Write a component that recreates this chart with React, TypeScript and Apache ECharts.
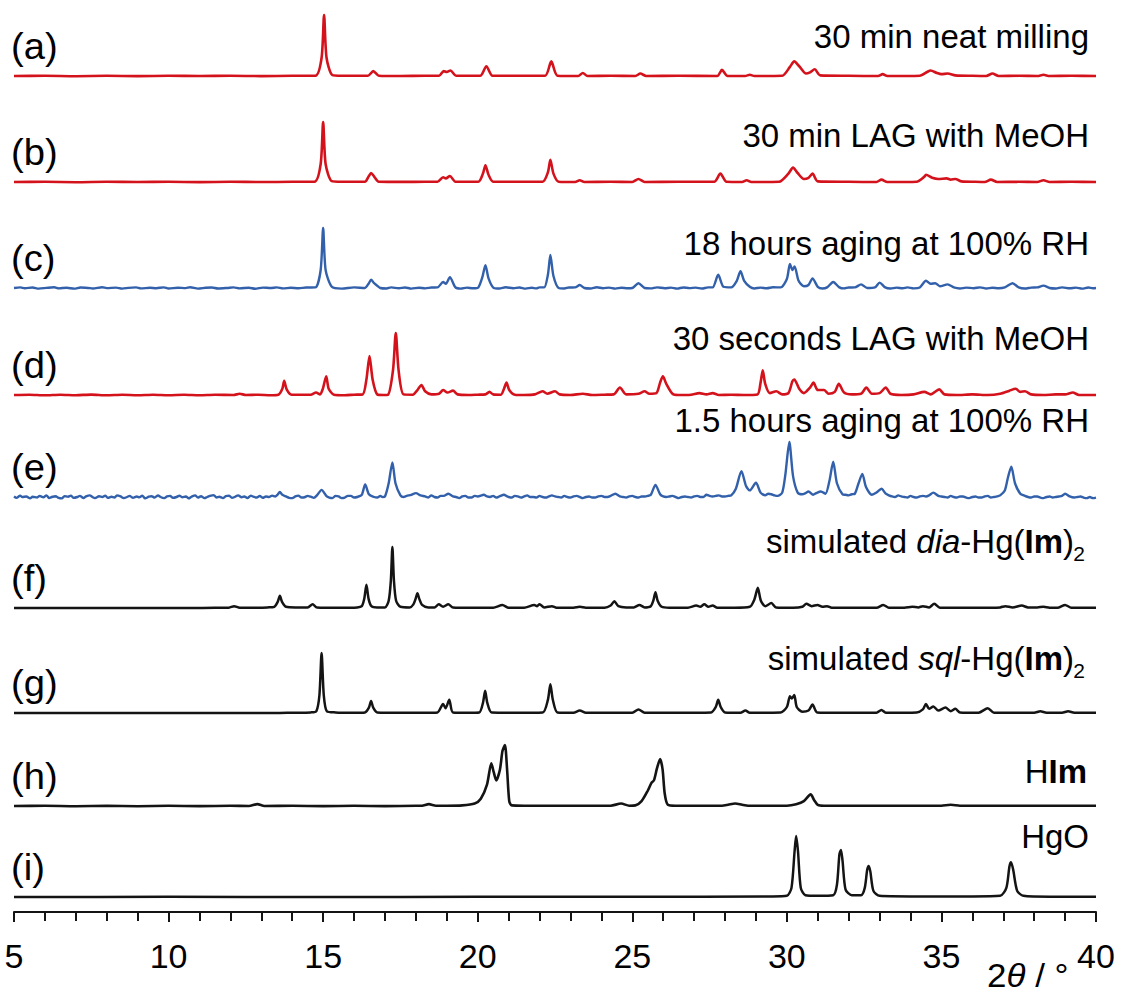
import React, { useEffect, useRef } from "react";
import * as echarts from "echarts";

// ---------- data ----------
const X_MIN = 5;
const X_MAX = 40;
const X_STEP = 5;

const traceTags = ["(a)", "(b)", "(c)", "(d)", "(e)", "(f)", "(g)", "(h)", "(i)"];

// (a) 30 min neat milling
const traceA: [number, number][] = [
  [5, 0], [6, 0.4], [7, -0.3], [8, 0.3], [9, -0.2], [10, 0.4], [11, 0], [12, 0.3], [13, -0.2], [14, 0.3],
  [14.75, 0.5], [14.95, 30], [15.03, 100], [15.11, 30], [15.3, 1.5], [15.6, 0.5],
  [16.45, 0.5], [16.62, 8], [16.8, 0.5], [17.5, 0], [18.3, 0.4],
  [18.75, 0.5], [18.9, 8], [19.0, 6.5], [19.12, 9], [19.3, 0.5],
  [20.08, 0.5], [20.28, 16], [20.48, 0.5], [21.3, 0.3],
  [22.18, 0.5], [22.38, 24], [22.58, 0.5],
  [23.25, 0], [23.4, 5], [23.55, 0], [24.3, 0.4],
  [25.1, 0], [25.26, 4], [25.45, 0], [26.5, 0.3],
  [27.75, 0], [27.9, 10], [28.08, 0],
  [28.65, 0], [28.8, 2], [28.95, 0],
  [29.85, 0.5], [30.1, 15], [30.24, 24], [30.4, 16], [30.62, 4], [30.75, 6], [30.9, 11], [31.08, 1],
  [32, 0.3], [32.95, 0], [33.1, 3], [33.25, 0],
  [34.3, 0.5], [34.55, 7], [34.65, 9], [34.85, 5], [35.0, 3], [35.2, 4], [35.45, 1],
  [36.0, 0.3], [36.45, 0], [36.65, 4], [36.85, 0], [37.5, 0.3],
  [38.1, 0], [38.3, 2], [38.5, 0], [39.2, 0.3], [40, 0],
];

// (b) 30 min LAG with MeOH
const traceB: [number, number][] = [
  [5, 0], [6, 0.3], [7, -0.3], [8, 0.4], [9, 0], [10, 0.3], [11, -0.2], [12, 0.3], [13, 0], [14, 0.3],
  [14.72, 0.5], [14.92, 30], [15.0, 100], [15.08, 30], [15.28, 1.5], [15.6, 0.5],
  [16.35, 0.5], [16.48, 10], [16.55, 15], [16.65, 9], [16.8, 0.5],
  [17.6, 0.2], [18.3, 0.4],
  [18.7, 0.5], [18.88, 8], [18.97, 6], [19.1, 10], [19.28, 0.5],
  [20.02, 0.5], [20.17, 14], [20.25, 28], [20.35, 12], [20.5, 0.5], [21.3, 0.3],
  [22.1, 0.5], [22.27, 16], [22.35, 37], [22.45, 14], [22.62, 0.5],
  [23.15, 0], [23.3, 3], [23.45, 0], [24.3, 0.3],
  [25.0, 0], [25.2, 5], [25.4, 0], [26.5, 0.3],
  [27.65, 0.3], [27.85, 14], [28.05, 0.3],
  [28.55, 0], [28.7, 3], [28.85, 0],
  [29.75, 0.5], [30.05, 14], [30.2, 24], [30.35, 15], [30.55, 5], [30.7, 7], [30.83, 14], [31.0, 1],
  [32, 0.3], [32.9, 0], [33.06, 4], [33.25, 0],
  [34.2, 0.5], [34.45, 9], [34.5, 12], [34.7, 7], [34.9, 5], [35.17, 6], [35.3, 4], [35.45, 5], [35.65, 1],
  [36.1, 0.3], [36.4, 0], [36.6, 4], [36.8, 0], [37.5, 0.3],
  [38.1, 0], [38.3, 3], [38.5, 0], [39.2, 0.3], [40, 0],
];

// (c) 18 hours aging at 100% RH
const traceC: [number, number][] = [
  [5, 0], [5.2, 1], [5.35, -0.5], [5.6, 0.8], [5.8, -1], [6.05, 0.2], [6.3, 1.2], [6.45, -0.6], [6.7, 0.4], [6.95, -1.1],
  [7.15, 0.9], [7.4, 0.1], [7.55, -0.8], [7.85, 1.3], [8.0, -0.2], [8.3, 0.6], [8.5, -1], [8.7, 0.2], [8.95, 1], [9.1, -0.7],
  [9.4, 0.3], [9.6, -0.4], [9.85, 1.1], [10.0, -0.9], [10.3, 0.5], [10.55, -0.2], [10.7, 1.2], [10.95, -1], [11.2, 0.4], [11.4, 0.9],
  [11.6, -0.8], [11.9, 0.1], [12.1, 1], [12.3, -0.6], [12.6, 0.5], [12.8, -1.2], [13.05, 0.7], [13.3, -0.1], [13.5, 1], [13.7, -0.7],
  [13.95, 0.4], [14.2, -0.5], [14.45, 0.8],
  [14.75, 1], [14.92, 30], [15.0, 100], [15.08, 30], [15.28, 2], [15.6, -1], [16, 1],
  [16.35, 0], [16.48, 8], [16.55, 14], [16.65, 8], [16.85, 0],
  [17.05, -0.8], [17.2, 1], [17.45, -0.4], [17.65, 0.9], [17.85, -1], [18.1, 0.5], [18.3, -0.6], [18.5, 0.8],
  [18.7, 1], [18.88, 10], [18.97, 7], [19.1, 18], [19.28, 1], [19.45, -1], [19.65, 0.6], [19.85, -0.5],
  [20.02, 1], [20.15, 18], [20.25, 38], [20.35, 16], [20.52, 0],
  [20.7, -0.9], [20.9, 1.2], [21.15, -0.3], [21.35, 0.8], [21.55, -1], [21.75, 0.4], [21.9, -0.6], [22.0, 1],
  [22.15, 1], [22.27, 22], [22.35, 55], [22.45, 20], [22.62, 0],
  [22.8, -0.8], [22.95, 0.9], [23.15, 1], [23.3, 5], [23.45, 0], [23.65, -0.9], [23.85, 1.2], [24.05, -0.3], [24.25, 0.7], [24.45, -1], [24.65, 0.5], [24.85, -0.4],
  [25.0, 0], [25.2, 8], [25.4, 0],
  [25.6, -0.7], [25.8, 1.1], [26.05, -0.4], [26.25, 0.6], [26.45, -1], [26.65, 0.9], [26.85, -0.2], [27.05, 0.6], [27.25, -0.9], [27.45, 1],
  [27.6, 1], [27.78, 22], [27.95, 2],
  [28.2, 1], [28.38, 12], [28.5, 28], [28.62, 12], [28.8, 2],
  [28.95, -0.8], [29.15, 0.7], [29.35, -0.5], [29.55, 1.2], [29.8, 1], [30.0, 15], [30.1, 40], [30.18, 30], [30.25, 36], [30.38, 12], [30.55, 3],
  [30.7, 5], [30.83, 16], [31.0, 2],
  [31.15, -0.8], [31.3, 1], [31.5, 10], [31.7, 1],
  [31.85, -0.7], [32.0, 0.9], [32.2, 1], [32.4, 6], [32.6, 0],
  [32.85, 1], [33.0, 9], [33.18, 1],
  [33.35, -0.9], [33.55, 0.6], [33.75, -0.4], [33.9, 1.1], [34.1, -0.6],
  [34.3, 1], [34.5, 12], [34.65, 7], [34.8, 8], [34.95, 3], [35.2, 6], [35.4, 1],
  [35.6, -0.8], [35.8, 0.6], [36.05, -0.3], [36.25, 1.1], [36.45, -0.9], [36.65, 0.4], [36.85, -0.5],
  [37.05, 1], [37.3, 8], [37.5, 1],
  [37.7, -0.9], [37.9, 0.7], [38.1, 1], [38.3, 4], [38.5, 0], [38.7, -0.8], [38.9, 1.1], [39.15, -0.5], [39.35, 0.6], [39.55, -1], [39.75, 0.8], [39.9, -0.4], [40, 0],
];

// (d) 30 seconds LAG with MeOH
const traceD: [number, number][] = [
  [5, 0], [5.5, 0.5], [6, -0.5], [6.5, 0.5], [7, -0.3], [7.5, 0.6], [8, -0.5], [8.5, 0.3], [9, -0.4], [9.5, 0.5],
  [10, -0.3], [10.5, 0.4], [11, -0.5], [11.5, 0.3], [12.1, 0], [12.3, 2], [12.5, 0], [12.9, 0.5], [13.3, -0.3],
  [13.55, 0.5], [13.68, 10], [13.74, 23], [13.82, 9], [13.98, 0.5],
  [14.3, 0.3], [14.6, 0.5], [14.77, 4], [14.9, 1], [14.99, 10], [15.1, 30], [15.18, 10], [15.35, 0.5],
  [15.7, -0.3], [16.0, 0.5],
  [16.28, 1], [16.4, 25], [16.5, 63], [16.6, 25], [16.75, 1],
  [16.95, 0], [17.1, 0.5], [17.26, 40], [17.35, 100], [17.44, 40], [17.6, 1],
  [17.9, 0.5], [18.05, 8], [18.18, 16], [18.3, 6], [18.5, 1],
  [18.75, 2], [18.88, 8], [19.02, 4], [19.2, 7], [19.35, 1],
  [19.7, 0], [20.0, 0.5], [20.25, 1], [20.38, 5], [20.5, 1],
  [20.75, 0.5], [20.85, 10], [20.93, 20], [21.02, 8], [21.2, 0.5],
  [21.5, 0], [21.85, 1], [22.1, 6], [22.25, 2], [22.5, 6], [22.65, 1],
  [23.0, 0], [23.4, 2], [23.7, 0], [24.1, 0.5],
  [24.4, 1], [24.6, 12], [24.8, 1],
  [25.2, 2], [25.4, 6], [25.55, 2],
  [25.78, 3], [25.9, 20], [25.99, 30], [26.1, 18], [26.3, 2], [26.5, 0],
  [26.9, 0.5], [27.17, 3], [27.4, 1], [27.6, 3], [27.8, 0],
  [28.2, 0.5], [28.6, 0], [29.05, 1], [29.15, 20], [29.22, 40], [29.3, 18], [29.45, 3], [29.66, 6], [29.85, 1],
  [30.05, 3], [30.18, 22], [30.24, 25], [30.4, 10], [30.55, 3], [30.75, 12], [30.86, 20], [31.0, 8], [31.2, 8], [31.35, 2],
  [31.55, 5], [31.68, 18], [31.85, 4], [32.1, 1],
  [32.4, 2], [32.57, 12], [32.75, 2], [33.0, 3], [33.2, 12], [33.35, 2],
  [33.7, 0], [34.1, 1], [34.45, 5], [34.65, 1], [34.93, 9], [35.1, 1],
  [35.5, 0], [36.0, 1], [36.5, 0], [36.9, 2], [37.2, 7], [37.4, 10], [37.55, 5], [37.7, 6], [37.9, 1],
  [38.3, 0], [38.7, 1], [39.0, 1], [39.25, 4], [39.45, 0], [40, 0],
];

// (e) 1.5 hours aging at 100% RH
const traceE: [number, number][] = [
  [5, 1], [5.08, -1.5], [5.2, 2.5], [5.27, 0], [5.4, 1], [5.52, -2.5], [5.6, 0.5], [5.75, -1], [5.83, 2], [5.95, -0.5],
  [6.05, 3], [6.14, -2], [6.22, 0], [6.35, 1.5], [6.42, -1], [6.55, -2.5], [6.63, 1.5], [6.75, 0.5], [6.84, 2.5], [6.93, -1.5],
  [7.05, 0], [7.13, 2], [7.25, -2], [7.33, 1], [7.45, 3], [7.55, -0.5], [7.62, -2], [7.75, 1.5], [7.86, 0], [7.95, 2.5],
  [8.04, -1.5], [8.15, 0.5], [8.25, -1], [8.33, 3], [8.45, 1], [8.55, -2], [8.66, 0], [8.74, 2], [8.85, -1.5], [8.97, 1],
  [9.05, -0.5], [9.15, 2.5], [9.24, -2.5], [9.36, 0.5], [9.45, 1.5], [9.55, -1], [9.66, 3], [9.74, 0], [9.86, -2], [9.95, 1],
  [10.05, 2], [10.14, -1.5], [10.26, 0], [10.35, 2.5], [10.44, -0.5], [10.56, 1], [10.65, -2.5], [10.74, 0.5], [10.86, 3], [10.95, -1],
  [11.05, 1.5], [11.16, -2], [11.25, 0], [11.34, 2], [11.46, 3.5], [11.55, -1], [11.64, 0.5], [11.76, -2], [11.85, 1.5], [11.96, 2.5],
  [12.05, -1.5], [12.14, 0], [12.25, 3], [12.36, -0.5], [12.45, 1], [12.55, -2], [12.66, 2.5], [12.74, 0.5], [12.85, -1], [12.95, 2],
  [13.05, -1.5], [13.15, 1], [13.25, 0], [13.35, 2.5], [13.45, 1], [13.52, 4], [13.6, 9], [13.68, 4], [13.8, 1], [13.9, -1.5],
  [14, -2], [14.1, 1], [14.2, 2.5], [14.3, -1], [14.4, -0.5], [14.5, 2], [14.6, 0.5], [14.7, -1.5], [14.8, 3],
  [14.95, 13], [15.1, 2], [15.2, -1], [15.3, -2], [15.4, 2], [15.5, 1], [15.6, -2], [15.7, -1], [15.8, 2], [15.9, 2], [16.0, -1], [16.1, 0], [16.25, 4], [16.36, 23], [16.48, 5],
  [16.65, 0], [16.75, -1], [16.85, 2], [16.92, 0], [17.0, 1], [17.12, 25], [17.24, 63], [17.34, 25], [17.5, 3], [17.6, 0], [17.7, 2], [17.85, 4], [18.0, 7],
  [18.15, 3], [18.3, 1], [18.4, -1], [18.5, 3], [18.6, 0], [18.7, -1], [18.8, 2], [18.9, 2], [19.05, 6], [19.2, 1], [19.3, 0], [19.4, -2], [19.5, 1], [19.6, 2], [19.7, -1], [19.8, -1], [19.9, 2],
  [20.0, 1], [20.2, 4], [20.3, 1], [20.4, 0], [20.5, 2], [20.6, -1], [20.7, 1], [20.85, 4], [20.95, 1], [21.0, 0], [21.1, -1], [21.2, 2], [21.3, 1], [21.4, -1], [21.5, 1], [21.6, 3], [21.7, 0], [21.8, 0], [21.9, -1],
  [22.0, 2], [22.1, 0], [22.2, -1], [22.3, 1], [22.4, 3], [22.5, 1], [22.6, 0], [22.7, -1], [22.8, 2], [22.9, 0], [23.0, -1], [23.1, 1], [23.2, 2], [23.3, 0], [23.4, -2], [23.5, 0], [23.6, 1], [23.7, -1], [23.8, -1], [23.9, 1],
  [24.0, 2], [24.1, 0], [24.2, 0], [24.3, 2], [24.45, 6], [24.6, 1], [24.7, 0], [24.8, -1], [24.9, 1], [25.0, 2], [25.1, 0], [25.2, -1], [25.3, 1], [25.4, 1], [25.5, 2], [25.6, 4], [25.75, 22],
  [25.9, 5], [26.0, 1], [26.1, 0], [26.2, 1], [26.3, 2], [26.4, 0], [26.5, -2], [26.6, 0], [26.7, 1], [26.8, 0], [26.9, -1], [27.0, 1], [27.1, 2], [27.2, 0], [27.3, 0], [27.4, 4], [27.5, 2], [27.6, 1],
  [27.7, 2], [27.8, 3], [27.9, 1], [28.0, 1], [28.1, 2], [28.2, 3], [28.35, 15], [28.53, 47], [28.68, 20], [28.8, 12], [29.0, 26], [29.15, 8], [29.3, 3],
  [29.4, 6], [29.5, 5], [29.6, 3], [29.7, 2], [29.85, 8], [29.95, 40], [30.08, 100], [30.2, 38], [30.35, 8], [30.5, 5], [30.6, 7], [30.7, 10], [30.85, 4],
  [30.95, 7], [31.1, 10], [31.25, 6], [31.38, 30], [31.5, 64], [31.62, 25], [31.8, 5], [31.9, 4], [32.0, 3], [32.1, 5], [32.2, 6], [32.32, 25], [32.44, 42],
  [32.56, 18], [32.75, 4], [32.9, 8], [33.06, 15], [33.2, 6], [33.3, 3], [33.4, 1], [33.5, 0], [33.6, 3], [33.7, 1], [33.8, 0], [33.9, -1], [34.0, 2], [34.1, 0], [34.2, -1], [34.3, 1],
  [34.4, 2], [34.5, 1], [34.6, 3], [34.74, 8], [34.9, 2], [35.0, 1], [35.1, 0], [35.2, -1], [35.3, 2], [35.4, 0], [35.5, -1], [35.6, 1], [35.7, 1], [35.8, -1], [35.9, -2], [36.0, 0], [36.1, 1], [36.2, -1],
  [36.3, -1], [36.4, 1], [36.5, 2], [36.6, -1], [36.7, 0], [36.8, 1], [36.9, 3], [37.05, 12], [37.15, 35], [37.26, 55], [37.38, 25], [37.55, 6], [37.7, 2],
  [37.8, 0], [37.9, -1], [38.0, 1], [38.1, 1], [38.2, -1], [38.3, -2], [38.4, 0], [38.5, 1], [38.6, -1], [38.7, 0], [38.8, 1], [38.9, 2], [39.0, 6], [39.15, 1], [39.3, -1], [39.4, 0], [39.5, 1],
  [39.6, -1], [39.7, -2], [39.8, 0], [39.9, -2], [40, -1],
];

// (f) simulated dia-Hg(Im)2
const traceF: [number, number][] = [
  [5, 0], [10.7, 0], [11.5, 0.3], [11.95, 0.5], [12.12, 3], [12.3, 0.5], [12.9, 0.5], [13.2, 1],
  [13.42, 2], [13.53, 10], [13.6, 20], [13.67, 10], [13.8, 2], [14.1, 1],
  [14.5, 1], [14.66, 6], [14.8, 1],
  [15.5, 0.5], [16.1, 1], [16.25, 3], [16.33, 15], [16.4, 38], [16.47, 15], [16.56, 3], [16.75, 1],
  [17.0, 1], [17.12, 12], [17.19, 45], [17.24, 100], [17.29, 45], [17.36, 12], [17.5, 2],
  [17.8, 1], [17.92, 6], [17.99, 15], [18.05, 24], [18.11, 15], [18.2, 5], [18.4, 1],
  [18.6, 1], [18.74, 6], [18.88, 2], [19.05, 6], [19.2, 1],
  [19.8, 0.5], [20.5, 0.5], [20.8, 5], [21.0, 0.5],
  [21.5, 0.5], [21.83, 5], [21.92, 3], [22.0, 6], [22.15, 1], [22.4, 3], [22.55, 0.5],
  [23.1, 0.5], [23.3, 2], [23.5, 0.5], [24.1, 0.5], [24.3, 4], [24.42, 11], [24.55, 3], [24.8, 1],
  [25.05, 1], [25.23, 5], [25.4, 1], [25.6, 3], [25.68, 12], [25.75, 26], [25.82, 12], [25.95, 2], [26.2, 0.5],
  [26.8, 0.5], [27.07, 4], [27.2, 2], [27.33, 6], [27.46, 2], [27.6, 4], [27.75, 0.5],
  [28.3, 0.5], [28.8, 2], [28.95, 14], [29.06, 33], [29.16, 12], [29.3, 3], [29.5, 8], [29.65, 1],
  [30.2, 0.5], [30.5, 2], [30.63, 7], [30.8, 3], [30.99, 5], [31.15, 2], [31.3, 3], [31.45, 0.5],
  [32.2, 0.5], [32.9, 0.5], [33.12, 5], [33.3, 0.5],
  [33.8, 0.5], [34.06, 2], [34.25, 1], [34.4, 3], [34.6, 1], [34.77, 7], [34.95, 0.5],
  [35.8, 0.5], [36.6, 0.5], [36.9, 1], [37.07, 3], [37.3, 1], [37.6, 4], [37.8, 1], [38.1, 1], [38.3, 2], [38.5, 0.5],
  [38.8, 1], [39.0, 5], [39.2, 0.5], [39.6, 0.5], [40, 0.5],
];

// (g) simulated sql-Hg(Im)2
const traceG: [number, number][] = [
  [5, 0], [13.45, 0], [14.0, 0.5], [14.6, 1],
  [14.78, 3], [14.88, 30], [14.95, 100], [15.02, 30], [15.12, 3], [15.4, 1],
  [16.0, 0.5], [16.35, 1], [16.48, 9], [16.55, 20], [16.62, 9], [16.75, 1],
  [17.5, 0.5], [18.3, 0.5],
  [18.7, 1], [18.88, 15], [18.96, 8], [19.08, 22], [19.2, 1],
  [19.7, 0.5], [20.05, 1], [20.17, 17], [20.24, 37], [20.31, 17], [20.45, 1],
  [21.2, 0.5], [22.1, 1], [22.27, 22], [22.35, 48], [22.43, 22], [22.58, 1],
  [23.1, 0.5], [23.3, 4], [23.5, 0.5],
  [24.3, 0.5], [25.0, 0.5], [25.2, 6], [25.4, 0.5],
  [26.3, 0.5], [27.55, 1], [27.7, 10], [27.78, 22], [27.86, 10], [28.0, 1],
  [28.5, 0.5], [28.66, 4], [28.8, 0.5],
  [29.8, 1], [30.0, 10], [30.1, 28], [30.16, 24], [30.24, 30], [30.32, 10], [30.5, 2], [30.7, 4], [30.83, 14], [30.98, 1],
  [31.7, 0.5], [32.4, 0.5], [32.9, 0.5], [33.06, 5], [33.2, 0.5],
  [34.2, 1], [34.4, 6], [34.5, 15], [34.6, 7], [34.74, 11], [34.9, 4], [35.13, 9], [35.3, 3], [35.45, 7], [35.6, 1],
  [36.2, 0.5], [36.5, 8], [36.7, 0.5], [37.3, 0.5], [38.0, 0.5], [38.2, 3], [38.4, 0.5], [38.9, 0.5], [39.1, 3], [39.3, 0.5], [40, 0.5],
];

// (h) HIm
const traceH: [number, number][] = [
  [5, 0], [6, 0.4], [7, -0.3], [8, 0.3], [9, -0.3], [10, 0.3], [11, -0.2], [12, 0.3], [12.6, 0], [12.87, 3], [13.1, 0],
  [14, 0.3], [15, -0.2], [16, 0.3], [17, -0.2], [18, 0.3],
  [18.2, 0.5], [18.42, 3], [18.65, 0.5], [19.0, 0.5], [19.5, 1], [19.9, 4], [20.1, 12], [20.3, 35], [20.44, 70], [20.52, 55],
  [20.6, 42], [20.72, 60], [20.8, 90], [20.88, 100], [20.95, 60], [21.02, 8], [21.1, 1],
  [21.6, 0.5], [22.5, 0.3], [23.5, 0.3], [24.3, 0.5], [24.64, 4], [24.9, 0.5], [25.1, 1], [25.3, 8], [25.5, 25], [25.62, 38],
  [25.7, 42], [25.8, 62], [25.9, 77], [25.98, 60], [26.05, 20], [26.15, 2], [26.4, 0.5],
  [27.2, 0.5], [27.9, 0.5], [28.1, 2], [28.33, 4], [28.55, 2], [28.75, 0.5], [29.4, 0.3], [30.0, 0.5], [30.3, 3], [30.55, 8],
  [30.77, 19], [30.88, 10], [31.0, 2], [31.2, 0.5],
  [32.5, 0.3], [33.5, 0.5], [34.5, 0.3], [35.0, 0.5], [35.3, 2], [35.6, 0.5], [36.5, 0.3], [37.5, 0.5], [38.5, 0.3], [39.5, 0.5], [40, 0.3],
];

// (i) HgO
const traceI: [number, number][] = [
  [5, 0], [10, 0.3], [15, 0], [20, 0.3], [25, 0.3], [29.5, 1], [30.0, 2], [30.15, 15], [30.25, 75], [30.3, 100], [30.36, 75],
  [30.45, 15], [30.6, 3], [31.0, 2], [31.5, 3], [31.62, 20], [31.7, 70], [31.75, 77], [31.8, 60], [31.9, 12], [32.1, 3],
  [32.4, 3], [32.52, 15], [32.6, 45], [32.65, 51], [32.7, 42], [32.8, 10], [33.0, 2], [34, 1], [35, 1], [36, 1],
  [36.9, 2], [37.1, 15], [37.2, 50], [37.25, 57], [37.32, 45], [37.45, 10], [37.65, 2], [38.5, 0.5], [40, 0.5],
];

const traces = [traceA, traceB, traceC, traceD, traceE, traceF, traceG, traceH, traceI];

// ---------- styling / layout ----------
const RED = "#d3121c";
const BLUE = "#3260aa";
const BLACK = "#141414";
const traceColors = [RED, RED, BLUE, RED, BLUE, BLACK, BLACK, BLACK, BLACK];
const traceWidths = [2.6, 2.6, 2.4, 2.6, 2.4, 2.5, 2.5, 2.6, 2.5];
const baselines = [76, 182, 288, 395, 497, 608, 713, 806, 897];
const heights = [61, 60, 60, 62, 55, 61, 60, 61, 61];
const rightTextBase = [48, 147, 255, 350, 432, 553, 670, 783, 848];
const PLOT_LEFT = 14;
const PLOT_RIGHT = 1096;
const AXIS_Y = 912;
const FONT = "'Liberation Sans', Arial, Helvetica, sans-serif";

export default function App() {
  const ref = useRef<HTMLDivElement>(null);

  useEffect(() => {
    if (!ref.current) return;
    const chart = echarts.init(ref.current, undefined, { renderer: "svg" });
    const W = 1122;

    const grids: any[] = [];
    const xAxes: any[] = [];
    const yAxes: any[] = [];
    const series: any[] = [];

    traces.forEach((data, i) => {
      const h = heights[i];
      grids.push({ left: PLOT_LEFT, right: W - PLOT_RIGHT, top: baselines[i] - h, height: h * 1.2 });
      xAxes.push({ type: "value", gridIndex: i, min: X_MIN, max: X_MAX, show: false });
      yAxes.push({ type: "value", gridIndex: i, min: -20, max: 100, show: false });
      series.push({
        type: "line",
        xAxisIndex: i,
        yAxisIndex: i,
        data,
        symbol: "none",
        showSymbol: false,
        clip: false,
        smooth: 0.25,
        lineStyle: { color: traceColors[i], width: traceWidths[i], join: "round" },
        silent: true,
      });
    });

    // axis grid
    grids.push({ left: PLOT_LEFT, right: W - PLOT_RIGHT, top: AXIS_Y - 20, height: 20 });
    xAxes.push({
      type: "value",
      gridIndex: 9,
      min: X_MIN,
      max: X_MAX,
      interval: X_STEP,
      axisLine: { show: true, lineStyle: { color: BLACK, width: 2 } },
      axisTick: { show: true, length: 10, lineStyle: { color: BLACK, width: 2 } },
      minorTick: { show: true, splitNumber: 5, length: 9, lineStyle: { color: BLACK, width: 2 } },
      splitLine: { show: false },
      minorSplitLine: { show: false },
      axisLabel: { fontSize: 34, color: "#000", margin: 27, fontFamily: FONT, showMinLabel: true, showMaxLabel: true },
    });
    yAxes.push({ type: "value", gridIndex: 9, show: false, min: 0, max: 1 });

    const fs = 33;
    const mid = (b: number, size: number) => b - 0.355 * size;
    const graphics: any[] = [];
    traceTags.forEach((t, i) => {
      graphics.push({
        type: "text",
        x: 11,
        y: baselines[i] - 30,
        scaleX: 1.06,
        style: { text: t, fontSize: 36, fontFamily: FONT, fill: "#000", align: "left", verticalAlign: "middle" },
      });
    });
    const plain = ["30 min neat milling", "30 min LAG with MeOH", "18 hours aging at 100% RH", "30 seconds LAG with MeOH", "1.5 hours aging at 100% RH"];
    plain.forEach((t, i) => {
      graphics.push({
        type: "text",
        x: 1089,
        y: mid(rightTextBase[i], fs),
        style: { text: t, fontSize: fs, fontFamily: FONT, fill: "#000", align: "right", verticalAlign: "middle" },
      });
    });
    const rich = {
      n: { fontSize: fs, fontFamily: FONT, fill: "#000" },
      it: { fontSize: fs, fontFamily: FONT, fill: "#000", fontStyle: "italic" },
      b: { fontSize: fs, fontFamily: FONT, fill: "#000", fontWeight: "bold" },
    };
    const simLabels = ["{n|simulated }{it|dia}{n|-Hg(}{b|Im}{n|)}", "{n|simulated }{it|sql}{n|-Hg(}{b|Im}{n|)}"];
    simLabels.forEach((t, k) => {
      const i = 5 + k;
      graphics.push({
        type: "text",
        x: 1074,
        y: mid(rightTextBase[i], fs),
        style: { text: t, rich, fontSize: fs, fontFamily: FONT, fill: "#000", align: "right", verticalAlign: "middle" },
      });
      graphics.push({
        type: "text",
        x: 1085,
        y: mid(rightTextBase[i] + 8, 21),
        style: { text: "2", fontSize: 21, fontFamily: FONT, fill: "#000", align: "right", verticalAlign: "middle" },
      });
    });
    graphics.push({
      type: "text",
      x: 1087,
      y: mid(rightTextBase[7], fs),
      style: { text: "{n|H}{b|Im}", rich, fontSize: fs, fontFamily: FONT, fill: "#000", align: "right", verticalAlign: "middle" },
    });
    graphics.push({
      type: "text",
      x: 1089,
      y: mid(rightTextBase[8], fs),
      style: { text: "HgO", fontSize: fs, fontFamily: FONT, fill: "#000", align: "right", verticalAlign: "middle" },
    });
    // axis name
    graphics.push({
      type: "text",
      x: 987,
      y: 975,
      scaleX: 1.06,
      style: { text: "{n|2}{it|θ}{n| / °}", rich, fontSize: fs, fontFamily: FONT, fill: "#000", align: "left", verticalAlign: "middle" },
    });

    chart.setOption({
      animation: false,
      backgroundColor: "#fff",
      grid: grids,
      xAxis: xAxes,
      yAxis: yAxes,
      series,
      graphic: graphics,
    });
    return () => chart.dispose();
  }, []);

  return <div ref={ref} style={{ position: "absolute", left: 0, top: 0, width: 1122, height: 995, background: "#fff" }} />;
}
